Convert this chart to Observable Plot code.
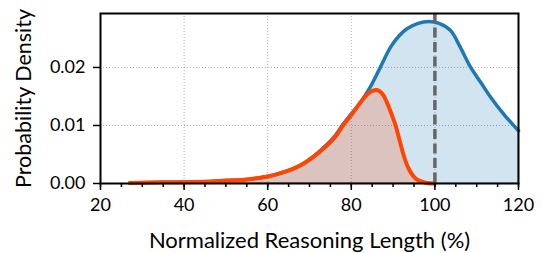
<!DOCTYPE html>
<html>
<head>
<meta charset="utf-8">
<script src="https://cdn.jsdelivr.net/npm/d3@7"></script>
<script src="https://cdn.jsdelivr.net/npm/@observablehq/plot@0.6"></script>
<style>
  html, body { margin: 0; padding: 0; background: white; }
</style>
</head>
<body>
<div id="chart"></div>
<script>
// Blue series (all responses)
const blueX = [27, 35, 45, 50, 55, 60, 64, 68, 72, 76, 78, 80, 82.2, 84.6, 87, 89.4, 91.5, 93.4, 96, 98.5, 101, 103.7, 106, 108.5, 111, 113.3, 116.5, 120];
const blueY = [0.0001, 0.0002, 0.0003, 0.0005, 0.0007, 0.0012, 0.0020, 0.0032, 0.0053, 0.0081, 0.0102, 0.0120, 0.0140, 0.0167, 0.0201, 0.0235, 0.0255, 0.0267, 0.0276, 0.0279, 0.0276, 0.0264, 0.0236, 0.0201, 0.0174, 0.0149, 0.0119, 0.0091];
// Orange series (subset)
const orangeX = [27, 35, 45, 50, 55, 60, 64, 68, 72, 76, 78, 80, 83, 84.6, 86.2, 87.5, 88.5, 89.5, 90.6, 91.5, 92.6, 93.5, 94.5, 95.5, 96.6, 98, 100];
const orangeY = [0.0001, 0.0002, 0.0003, 0.0005, 0.0007, 0.0012, 0.0020, 0.0032, 0.0052, 0.0079, 0.0100, 0.0118, 0.0147, 0.0158, 0.0161, 0.0154, 0.0140, 0.0122, 0.0100, 0.0076, 0.0047, 0.0029, 0.0016, 0.0008, 0.0004, 0.0001, 0];
// Axis ticks
const xTicks = [20, 40, 60, 80, 100, 120];
const xMinorTicks = d3.range(20, 121, 5);
const yTicks = [0, 0.01, 0.02];
const xGrid = [40, 60, 80, 100];
const yGrid = [0.01, 0.02];
const refLine = [100];
const xLabel = "Normalized Reasoning Length (%)";
const yLabel = "Probability Density";

const blue = blueX.map((x, i) => ({x, y: blueY[i]}));
const orange = orangeX.map((x, i) => ({x, y: orangeY[i]}));

const BLUE = "#1f77b4";
const ORANGE = "#ff4500";
const curve = "catmull-rom";

const chart = Plot.plot({
  width: 542,
  height: 253,
  marginLeft: 100,
  marginRight: 24,
  marginTop: 13,
  marginBottom: 70,
  x: {domain: [20, 120]},
  y: {domain: [0, 0.0293]},
  style: {fontFamily: "Lato, sans-serif", fontSize: "18px", color: "black", background: "white", overflow: "visible"},
  marks: [
    Plot.gridX(xGrid, {stroke: "#b0b0b0", strokeOpacity: 1, strokeWidth: 1, strokeDasharray: "1,2"}),
    Plot.gridY(yGrid, {stroke: "#b0b0b0", strokeOpacity: 1, strokeWidth: 1, strokeDasharray: "1,2"}),
    Plot.areaY(blue, {x: "x", y: "y", fill: BLUE, fillOpacity: 0.2, stroke: BLUE, strokeOpacity: 0.6, strokeWidth: 1, curve}),
    Plot.lineY(blue, {x: "x", y: "y", stroke: BLUE, strokeWidth: 3.5, curve}),
    Plot.areaY(orange, {x: "x", y: "y", fill: ORANGE, fillOpacity: 0.2, stroke: ORANGE, strokeOpacity: 0.6, strokeWidth: 1, curve}),
    Plot.lineY(orange, {x: "x", y: "y", stroke: ORANGE, strokeWidth: 4, curve}),
    Plot.ruleX(refLine, {stroke: "#666666", strokeWidth: 3.5, strokeDasharray: "10,4.5"}),
    Plot.axisX(xMinorTicks, {tickSize: 4, text: null, label: null, strokeWidth: 1.5}),
    Plot.axisX(xTicks, {tickSize: 7, tickPadding: 8, strokeWidth: 1.5, label: null, fontSize: 18}),
    Plot.axisY(yTicks, {tickSize: 7, tickPadding: 8, strokeWidth: 1.5, tickFormat: d3.format(".2f"), label: null, fontSize: 18}),
    Plot.frame({stroke: "black", strokeWidth: 2}),
    Plot.text([xLabel], {frameAnchor: "bottom", dy: 57, lineAnchor: "middle", fontSize: 22}),
    Plot.text([yLabel], {frameAnchor: "left", dx: -76, rotate: -90, textAnchor: "middle", lineAnchor: "middle", fontSize: 21.5})
  ]
});
document.getElementById("chart").appendChild(chart);
</script>
</body>
</html>
